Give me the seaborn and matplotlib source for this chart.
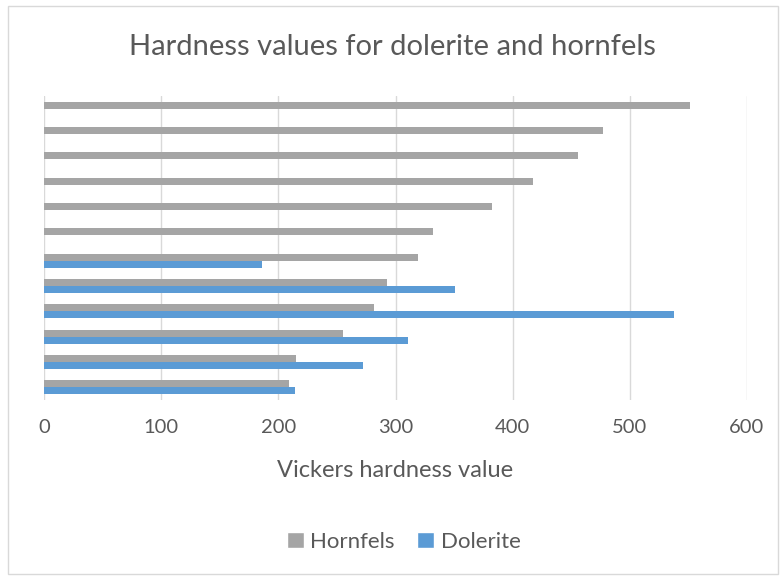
import numpy as np
import pandas as pd
import matplotlib
matplotlib.use("Agg")
import matplotlib.pyplot as plt
from matplotlib.patches import Rectangle, Patch
import seaborn as sns

# categories listed top to bottom as drawn
samples = [str(i) for i in range(12, 0, -1)]
hornfels = [551, 477, 456, 417, 382, 332, 319, 293, 282, 255, 215, 209]
dolerite = [np.nan, np.nan, np.nan, np.nan, np.nan, np.nan, 186, 351, 538, 311, 272, 214]
series = ["Hornfels", "Dolerite"]
colors = {"Hornfels": "#A5A5A5", "Dolerite": "#5B9BD5"}
xticks = [0, 100, 200, 300, 400, 500, 600]

df = pd.DataFrame({"sample": samples, "Hornfels": hornfels, "Dolerite": dolerite})
long = df.melt(id_vars="sample", var_name="rock", value_name="hv")

sns.set_style("white")
plt.rcParams["font.family"] = ["Lato", "DejaVu Sans"]
text_col = "#595959"

fig = plt.figure(figsize=(7.84, 5.78), dpi=100)
ax = fig.add_axes([44 / 784, 1 - 400 / 578, (747 - 44) / 784, (400 - 96) / 578])

sns.barplot(data=long, x="hv", y="sample", hue="rock", order=samples,
            hue_order=series, palette=colors, saturation=1, orient="h",
            width=0.56, gap=0, dodge=True, ax=ax, legend=False, linewidth=0)

ax.set_xlim(0, 600)
ax.set_ylim(len(samples) - 0.5, -0.5)
ax.set_xticks(xticks)
ax.set_xticklabels([str(t) for t in xticks], fontsize=14.5, color=text_col)
ax.set_yticks([])
ax.set_ylabel("")
ax.set_xlabel("Vickers hardness value", fontsize=17, color=text_col, labelpad=17)
ax.tick_params(axis="x", length=0, pad=14)
ax.grid(axis="x", color="#D9D9D9", linewidth=1)
ax.set_axisbelow(True)
for s in ax.spines.values():
    s.set_visible(False)

fig.text(0.5, 1 - 47 / 578, "Hardness values for dolerite and hornfels",
         ha="center", va="center", fontsize=21, color=text_col)

handles = [Patch(facecolor=colors[s], label=s) for s in series]
fig.legend(handles=handles, loc="center", bbox_to_anchor=(0.515, 1 - 542 / 578),
           ncol=2, frameon=False, fontsize=16, labelcolor=text_col,
           handlelength=0.75, handleheight=0.75, handletextpad=0.3, columnspacing=1.0)

fig.patches.append(Rectangle((8 / 784, 4 / 578), 770 / 784, 568 / 578,
                             transform=fig.transFigure, fill=False,
                             edgecolor="#D9D9D9", linewidth=1))

fig.savefig("out.png", dpi=100)
